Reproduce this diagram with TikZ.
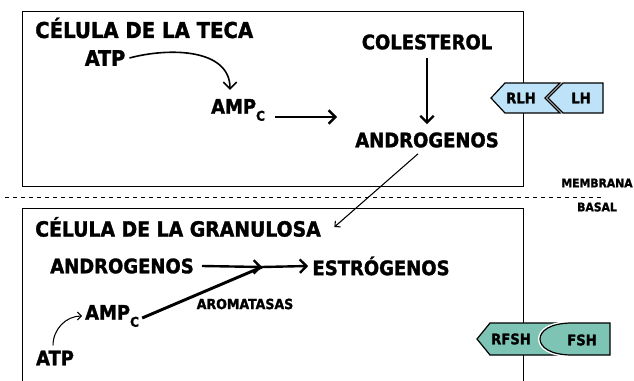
\documentclass[tikz,border=0pt]{standalone}
\usepackage{fontspec}
\setmainfont{DejaVu Sans Condensed}[BoldFeatures={FakeBold=1.5}]
\usetikzlibrary{arrows.meta}

\definecolor{rlhblue}{HTML}{BEE3F8}
\definecolor{fshteal}{HTML}{7DC4B5}

\newcommand{\ampc}{AMP\raisebox{-0.35em}{\fontsize{10}{10}\selectfont C}}

\tikzset{
  lbl/.style={font=\bfseries\fontsize{15}{15}\selectfont, inner sep=0pt},
  title/.style={font=\bfseries\fontsize{15.7}{16}\selectfont, inner sep=0pt, anchor=west},
  small/.style={font=\bfseries\fontsize{9}{9}\selectfont, inner sep=0pt},
  tag/.style={font=\bfseries\fontsize{11}{11}\selectfont, inner sep=0pt},
  big/.style={line width=1.8pt, -{Straight Barb[length=5pt,width=10pt]}},
  fine/.style={line width=0.8pt, -{Straight Barb[length=3pt,width=6pt]}},
}

\begin{document}
\begin{tikzpicture}[x=0.75pt,y=-0.75pt]
  \useasboundingbox (0,0) rectangle (634,381);

  % cell boxes
  \draw[line width=0.6pt] (22,11) rectangle (523,186);
  \draw[line width=0.6pt] (22,381) -- (22,208) -- (523,208) -- (523,381);
  \draw[dashed, line width=0.6pt] (5,197) -- (603,197);

  % teca
  \node[title, font=\bfseries\fontsize{16.4}{17}\selectfont] (teca) at (35,28) {CÉLULA DE LA TECA};
  \node[lbl, font=\bfseries\fontsize{16}{16}\selectfont] (atp1) at (105,58) {ATP};
  \node[lbl] (amp1) at (238,110) {\ampc};
  \node[lbl] (col) at (427,42) {COLESTEROL};
  \node[lbl] (andr1) at (427,140) {ANDROGENOS};
  \coordinate (gap1) at (337,117);

  \draw[line width=1.2pt, -{Straight Barb[length=5pt,width=10pt]}]
    ([xshift=3pt]atp1.east) to[out=15, in=90] ([shift={(-8,-9)}]amp1.north);
  \draw[big] ([shift={(10,7)}]amp1.east) -- (gap1);
  \draw[big] ([yshift=-6pt]col.south) -- ([yshift=6pt]andr1.north);

  % granulosa
  \node[title] (gran) at (35,227) {CÉLULA DE LA GRANULOSA};
  \node[lbl] (andr2) at (122,266) {ANDROGENOS};
  \node[lbl] (estr) at (381,266) {ESTRÓGENOS};
  \coordinate (mid) at (262,267);
  \node[small, font=\bfseries\fontsize{10.5}{10.5}\selectfont] (arom) at (245,304) {AROMATASAS};
  \node[lbl] (amp2) at (112,316) {\ampc};
  \node[lbl] (atp2) at (55,358) {ATP};

  \draw[fine] ([shift={(-9,6)}]andr1.south) -- ([xshift=10pt]gran.east);
  \draw[big] ([xshift=6pt]andr2.east) -- (mid);
  \draw[big] (mid) -- ([xshift=-3pt]estr.west);
  \draw[line width=2.2pt] ([shift={(3,2)}]amp2.east) -- (mid);
  \draw[fine] ([shift={(-2,-5)}]atp2.north) to[out=90, in=180] ([xshift=-2pt]amp2.west);

  % membrana basal
  \node[small] (memb) at (597,183) {MEMBRANA};
  \node[small] (basal) at (597,207) {BASAL};

  % receptors
  \filldraw[fill=rlhblue, line width=0.9pt, line join=miter]
    (491,98) -- (505,83) -- (560,83) -- (545,98) -- (560,113) -- (505,113) -- cycle;
  \filldraw[fill=rlhblue, line width=0.9pt, line join=miter]
    (548,98) -- (563,83) -- (603,83) -- (603,113) -- (563,113) -- cycle;
  \node[tag] (rlh) at (521,98) {RLH};
  \node[tag] (lh) at (581,98) {LH};

  \filldraw[fill=fshteal, line width=0.9pt, line join=miter]
    (477,339) -- (490,323) -- (570,323) -- (570,355) -- (490,355) -- cycle;
  \draw[white, line width=3pt]
    (572,323) .. controls (550,323) and (540,331) .. (540,339)
    .. controls (540,347) and (550,355) .. (572,355);
  \filldraw[fill=fshteal, line width=0.9pt]
    (572,323) .. controls (550,323) and (540,331) .. (540,339)
    .. controls (540,347) and (550,355) .. (572,355) -- (610,355) -- (610,323) -- cycle;
  \node[tag] (rfsh) at (511,339) {RFSH};
  \node[tag] (fsh) at (582,340) {FSH};
\end{tikzpicture}
\end{document}
